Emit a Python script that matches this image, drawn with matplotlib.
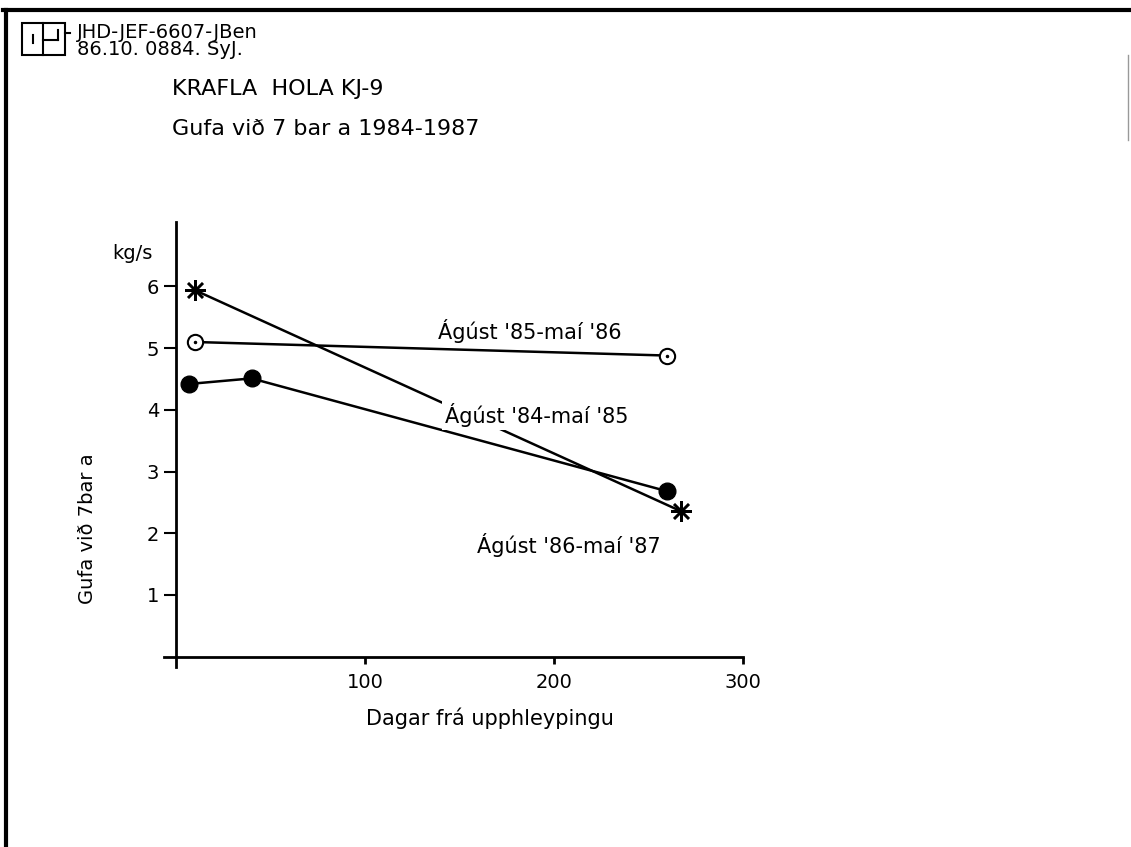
import matplotlib
matplotlib.use("Agg")
import matplotlib.pyplot as plt
from matplotlib.lines import Line2D
from matplotlib.patches import Rectangle

plt.rcParams["font.family"] = ["DejaVu Sans"]

# Ágúst '84 - maí '85 (stjarna)
days_84 = [10, 267]
steam_84 = [5.94, 2.36]
# Ágúst '85 - maí '86 (opinn hringur)
days_85 = [10, 260]
steam_85 = [5.1, 4.88]
# Ágúst '86 - maí '87 (fylltur hringur)
days_86 = [7, 40, 260]
steam_86 = [4.42, 4.51, 2.68]

xticks = [100, 200, 300]
yticks = [1, 2, 3, 4, 5, 6]

W, H = 1131, 847
fig = plt.figure(figsize=(W / 100, H / 100), dpi=100)


def fx(px):
    return px / W


def fy(py):
    return 1 - py / H


def seg(x0, y0, x1, y1, lw=1.5, color="black"):
    fig.add_artist(Line2D([fx(x0), fx(x1)], [fy(y0), fy(y1)], lw=lw, color=color))


# frame of the scanned sheet
seg(3, 10, W, 10, lw=3)
seg(6, 10, 6, H, lw=3)
seg(1128, 55, 1128, 140, lw=1, color="0.6")

# logo box
fig.add_artist(Rectangle((fx(22), fy(55)), fx(43), 32 / H, fill=False, lw=1.5, color="black"))
seg(43, 23, 43, 55)
seg(33, 35, 33, 43)
seg(43, 40, 58, 40)
seg(58, 30, 58, 40)
seg(65, 33, 70, 33)

fig.text(fx(77), fy(38), "JHD-JEF-6607-JBen", fontsize=14)
fig.text(fx(77), fy(55), "86.10. 0884. SyJ.", fontsize=14)

fig.text(fx(172), fy(95), "KRAFLA  HOLA KJ-9", fontsize=16)
fig.text(fx(172), fy(135), "Gufa við 7 bar a 1984-1987", fontsize=16)

ax = fig.add_axes([0.1447, 0.2123, 0.5122, 0.526])
ax.set_xlim(-6.5, 300)
ax.set_ylim(-0.17, 7.05)
for s in ["top", "right"]:
    ax.spines[s].set_visible(False)
ax.spines["left"].set_position(("data", 0))
ax.spines["bottom"].set_position(("data", 0))
ax.spines["left"].set_linewidth(2)
ax.spines["bottom"].set_linewidth(2)

ax.set_xticks(xticks)
ax.set_yticks(yticks)
ax.tick_params(axis="x", direction="out", length=5, width=2, labelsize=14, pad=7)
ax.tick_params(axis="y", direction="out", length=9, width=1.5, labelsize=14, pad=3)

ax.plot(days_84, steam_84, color="black", lw=1.8, marker=(8, 2, 0), ms=15, mew=1.8, zorder=3)
ax.plot(days_85, steam_85, color="black", lw=1.8, marker="o", ms=11, mfc="white",
        mec="black", mew=1.5, zorder=3)
ax.plot(days_85, steam_85, ls="none", marker=".", ms=3, color="black", zorder=4)
ax.plot(days_86, steam_86, color="black", lw=1.8, marker="o", ms=12, zorder=3)

ax.text(138.6, 5.28, "Ágúst '85-maí '86", fontsize=15, va="center", ha="left")
ax.text(142.3, 3.92, "Ágúst '84-maí '85", fontsize=15, va="center", ha="left",
        bbox=dict(facecolor="white", edgecolor="none", pad=2), zorder=5)
ax.text(159.3, 1.81, "Ágúst '86-maí '87", fontsize=15, va="center", ha="left")

ax.text(-22.8, 6.53, "kg/s", fontsize=14, ha="center", va="center", clip_on=False)
ax.set_ylabel("Gufa við 7bar a", fontsize=14)
ax.yaxis.set_label_coords((97 - 163.7) / 579, 0.31)
ax.set_xlabel("Dagar frá upphleypingu", fontsize=15)
ax.xaxis.set_label_coords(0.563, (667 - 707) / 445)

fig.savefig("out.png", dpi=100)
